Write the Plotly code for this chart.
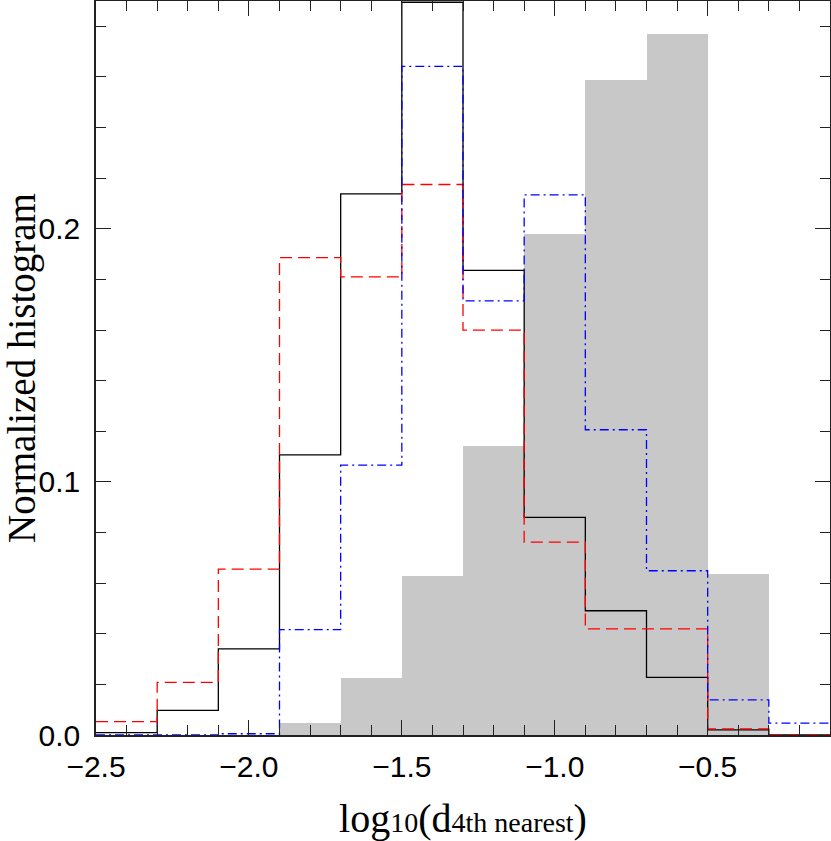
import plotly.graph_objects as go

# bin edges of log10(d_4th nearest)
edges = [-2.5, -2.3, -2.1, -1.9, -1.7, -1.5, -1.3, -1.1, -0.9, -0.7, -0.5, -0.3, -0.1]

# normalized histogram values per bin
gray_vals  = [0.0, 0.0, 0.0, 0.0048, 0.0226, 0.0627, 0.1143, 0.1980, 0.2586, 0.2771, 0.0637, 0.0]
black_vals = [0.0009, 0.0097, 0.0340, 0.1107, 0.2138, 0.2895, 0.1836, 0.0860, 0.0491, 0.0228, 0.0020, 0.0]
red_vals   = [0.0053, 0.0208, 0.0655, 0.1886, 0.1810, 0.2175, 0.1600, 0.0762, 0.0419, 0.0419, 0.0024, 0.0]
blue_vals  = [0.0, 0.0, 0.0005, 0.0416, 0.1066, 0.2642, 0.1715, 0.2134, 0.1206, 0.0649, 0.0139, 0.0047]

x_ticks = [-2.5, -2.0, -1.5, -1.0, -0.5]
y_ticks = [0.0, 0.1, 0.2]

centers = [(a + b) / 2 for a, b in zip(edges[:-1], edges[1:])]
widths = [b - a for a, b in zip(edges[:-1], edges[1:])]

fig = go.Figure()
fig.add_trace(go.Bar(x=centers, y=gray_vals, width=widths,
                     marker=dict(color="#c8c8c8", line=dict(width=0)),
                     showlegend=False, hoverinfo="skip"))

def step(vals, color, dash):
    fig.add_trace(go.Scatter(x=edges, y=vals + [vals[-1]], mode="lines",
                             line=dict(shape="hv", color=color, width=1.3, dash=dash),
                             showlegend=False, hoverinfo="skip"))

step(black_vals, "#000000", "solid")
step(red_vals, "#ff0000", "12px,6px")
step(blue_vals, "#0000ff", "9px,4px,2px,4px")

tickfont = dict(family="Liberation Sans, Arial, sans-serif", size=30, color="#000")
xtitlefont = dict(family="Liberation Serif, Times New Roman, serif", size=40, color="#000")
ytitlefont = dict(family="Liberation Serif, Times New Roman, serif", size=39, color="#000")

xtitle = ('log<span style="font-size:28px">10</span>(d'
          '<span style="font-size:28px">4th nearest</span>)')

fig.update_layout(
    width=831, height=841,
    margin=dict(l=96, r=1, t=1, b=106),
    paper_bgcolor="white", plot_bgcolor="white",
    bargap=0,
    xaxis=dict(range=[-2.5, -0.1], tickvals=x_ticks, tickformat=".1f",
               ticks="inside", ticklen=15, tickwidth=1.3, tickcolor="#222",
               mirror="ticks", showline=True, linecolor="#222", linewidth=1.5,
               showgrid=False, zeroline=False, tickfont=tickfont, automargin=False,
               ticklabelstandoff=4,
               minor=dict(dtick=0.1, tick0=-2.5, ticks="inside", ticklen=10, tickwidth=1.2, tickcolor="#222"),
               title=dict(text=xtitle, font=xtitlefont, standoff=24)),
    yaxis=dict(range=[0, 0.29], tickvals=y_ticks, tickformat=".1f",
               ticks="inside", ticklen=15, tickwidth=1.3, tickcolor="#222",
               mirror="ticks", showline=True, linecolor="#222", linewidth=1.5,
               showgrid=False, zeroline=False, tickfont=tickfont, automargin=False,
               ticklabelstandoff=8,
               minor=dict(dtick=0.02, tick0=0, ticks="inside", ticklen=10, tickwidth=1.2, tickcolor="#222"),
               title=dict(text="Normalized histogram", font=ytitlefont, standoff=0)),
)

fig.write_html(
    "out.html",
    config={"displayModeBar": False},
    post_script=("document.documentElement.style.margin='0';"
                 "document.body.style.margin='0';document.body.style.padding='0';"
                 "document.documentElement.style.overflow='hidden';"
                 "document.body.style.overflow='hidden';"),
)
